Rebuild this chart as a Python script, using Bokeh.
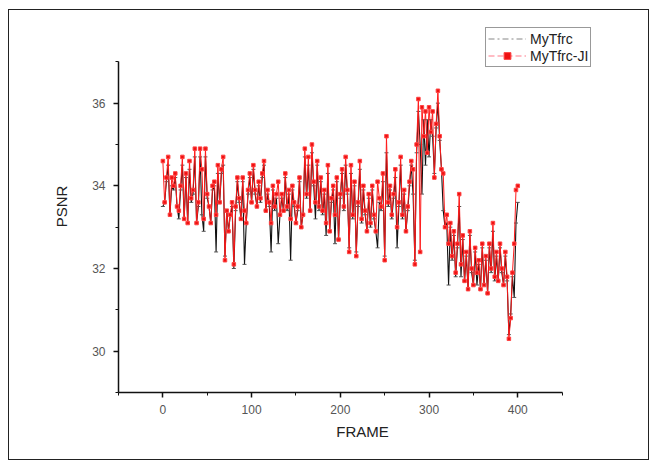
from bokeh.plotting import figure
from bokeh.models import Range1d, SingleIntervalTicker, Legend, LegendItem
from bokeh.embed import file_html
from bokeh.resources import INLINE

frames = list(range(0, 401, 2))

mytfrc_ji = [
    34.6, 33.6, 34.2, 34.7, 33.3, 34.2, 34.0, 34.3, 33.5, 33.4,
    34.0, 34.7, 33.2, 34.3, 33.1, 34.6, 33.7, 33.9, 34.9, 33.1,
    33.6, 34.9, 34.4, 33.2, 34.9, 33.8, 33.5, 33.1, 34.0, 34.1,
    33.3, 34.5, 33.6, 34.4, 34.7, 32.2, 33.4, 32.9, 33.3, 33.6,
    32.1, 33.5, 34.2, 33.7, 33.2, 34.2, 33.4, 33.1, 33.9, 34.3,
    33.6, 34.5, 33.9, 33.5, 34.1, 33.7, 34.3, 34.6, 33.4, 33.9,
    33.6, 33.1, 34.0, 33.5, 33.8, 34.1, 33.3, 33.8, 33.4, 34.3,
    33.5, 33.9, 33.2, 34.0, 33.6, 33.1, 33.5, 34.2, 33.0, 33.3,
    34.9, 33.8, 34.7, 33.4, 35.0, 34.1, 33.6, 34.6, 33.5, 34.2,
    33.4, 33.9, 33.1, 34.5, 32.9, 33.7, 34.0, 33.3, 34.2, 32.7,
    33.8, 34.4, 33.5, 34.7, 33.9, 32.4, 34.5, 33.3, 34.1, 32.3,
    33.6, 34.6, 33.2, 34.0, 33.4, 32.9, 33.8, 33.1, 34.0, 33.3,
    32.9, 34.1, 33.7, 33.5, 34.3, 32.2, 35.2, 33.6, 34.0, 33.3,
    33.8, 34.4, 33.0, 33.6, 34.7, 33.3, 33.9, 32.9, 33.5, 34.1,
    34.6, 34.4, 32.1, 35.0, 36.1, 32.4, 35.9, 35.2, 35.8, 34.8,
    35.9, 35.3, 35.8, 34.2, 35.5, 36.3, 35.2, 34.4, 34.3, 33.0,
    33.3, 32.6, 33.1, 32.3, 32.9, 31.9, 32.6, 33.8, 32.1, 32.8,
    31.7, 32.4, 31.5, 32.9, 32.0, 31.6, 32.5, 31.9, 32.2, 31.5,
    32.6, 31.6, 32.3, 31.4, 32.6, 32.0, 33.1, 31.8, 32.4, 31.7,
    32.6, 32.0, 31.6, 32.4, 31.8, 30.3, 30.8, 31.9, 32.6, 33.9,
    34.0,
]

mytfrc = [
    33.5, 33.6, 34.1, 34.5, 33.3, 34.0, 33.9, 34.2, 33.5, 33.2,
    33.9, 34.5, 33.2, 34.2, 33.1, 34.4, 33.6, 33.8, 34.7, 33.1,
    33.5, 34.7, 33.3, 32.9, 34.7, 33.7, 33.5, 33.1, 33.9, 34.0,
    32.4, 34.3, 33.6, 34.3, 34.5, 32.3, 33.4, 32.9, 33.3, 33.5,
    32.0, 33.4, 34.1, 33.6, 33.2, 34.1, 32.1, 33.1, 33.8, 34.2,
    33.6, 34.4, 33.8, 33.5, 34.0, 33.6, 34.2, 34.5, 33.4, 33.8,
    33.5, 32.4, 33.9, 33.4, 33.7, 32.6, 33.3, 33.7, 33.4, 34.2,
    33.4, 33.8, 32.2, 33.9, 33.5, 33.1, 33.4, 34.1, 33.0, 33.3,
    34.7, 33.7, 34.5, 33.4, 34.8, 34.0, 33.2, 34.5, 33.4, 34.1,
    33.3, 33.8, 32.8, 34.3, 32.9, 33.6, 33.9, 32.6, 34.1, 32.7,
    33.7, 34.3, 33.4, 34.5, 33.8, 32.5, 34.3, 33.2, 34.0, 32.4,
    33.5, 34.4, 33.1, 33.9, 33.3, 32.9, 33.7, 33.0, 33.9, 33.2,
    32.9, 32.5, 33.6, 33.4, 34.1, 32.3, 34.8, 33.5, 33.9, 33.2,
    33.7, 34.2, 32.5, 33.5, 34.5, 33.2, 33.8, 32.9, 33.4, 34.0,
    34.5, 33.8, 32.2, 34.8, 35.8, 35.0, 33.8, 35.6, 34.5, 35.6,
    34.7, 35.6, 35.2, 34.3, 35.4, 36.0, 35.1, 34.4, 33.4, 33.0,
    33.1, 31.6, 33.0, 32.2, 32.8, 31.8, 32.5, 33.5, 31.8, 32.7,
    31.7, 32.3, 31.5, 32.8, 31.9, 31.6, 32.4, 31.6, 32.1, 31.5,
    32.5, 31.6, 32.2, 31.4, 32.5, 31.9, 32.9, 31.7, 32.3, 31.7,
    32.5, 31.9, 31.6, 32.3, 31.7, 30.4, 30.9, 31.8, 31.3, 33.1,
    33.6,
]

x_ticks_interval = 100
y_ticks_interval = 2

FONT = "Liberation Sans"

p = figure(frame_width=488, frame_height=372, output_backend="svg", toolbar_location=None,
           x_range=Range1d(-50, 500), y_range=Range1d(29, 38),
           min_border_left=109, min_border_right=42, min_border_top=10, min_border_bottom=67)
p.styles = {"border": "1px solid #222", "margin-left": "8px", "margin-top": "9px"}
p.outline_line_color = None
p.xgrid.visible = False
p.ygrid.visible = False

black_line = p.line(frames, mytfrc, line_color="#111111", line_width=1.1)
black_pts = p.scatter(frames, mytfrc, marker="dash", size=4, line_color="#555555")
red_line = p.line(frames, mytfrc_ji, line_color="#ff1a1a", line_width=1)
red_pts = p.scatter(frames, mytfrc_ji, marker="square", size=3.5,
                    fill_color="#ee1111", line_color="#ff4444")

for ax, interval in ((p.xaxis[0], x_ticks_interval), (p.yaxis[0], y_ticks_interval)):
    ax.ticker = SingleIntervalTicker(interval=interval, num_minor_ticks=2)
    ax.axis_line_color = "#111111"
    ax.axis_line_width = 1.5
    ax.major_tick_line_color = "#111111"
    ax.minor_tick_line_color = "#111111"
    ax.major_tick_line_width = 1.5
    ax.major_tick_out = 5
    ax.major_tick_in = 0
    ax.minor_tick_out = 3
    ax.minor_tick_in = 0
    ax.major_label_text_font = FONT
    ax.major_label_text_font_size = "12px"
    ax.major_label_text_color = "#555555"
    ax.axis_label_text_font = FONT
    ax.axis_label_text_font_size = "15px"
    ax.axis_label_text_font_style = "normal"
    ax.axis_label_text_color = "#222222"

p.xaxis.bounds = (-50, 450)
p.yaxis.bounds = (29, 37)
p.xaxis.axis_label = "FRAME"
p.yaxis.axis_label = "PSNR"
p.xaxis.major_label_standoff = 7
p.xaxis.axis_label_standoff = 6
p.yaxis.major_label_standoff = 8
p.yaxis.axis_label_standoff = 19

legend_line = p.line([None], [None], line_color="#888888", line_dash="6 3 2 3", line_width=1.2)
legend_red = p.line([None], [None], line_color="#ff7a8a", line_dash="6 3", line_width=1.2)
legend_red_pt = p.scatter([None], [None], marker="square", size=3, fill_color="#ee1111", line_color="#ff4444")

legend = Legend(items=[
    LegendItem(label="MyTfrc", renderers=[legend_line]),
    LegendItem(label="MyTfrc-JI", renderers=[legend_red, legend_red_pt]),
], location=(367, 325))
legend.label_text_font = FONT
legend.label_text_font_size = "14px"
legend.label_text_color = "#222222"
legend.border_line_color = "#333333"
legend.border_line_width = 1
legend.padding = 2
legend.spacing = 0
legend.margin = 0
legend.glyph_width = 38
legend.glyph_height = 17
legend.label_height = 17
legend.label_standoff = 4
legend.background_fill_alpha = 1
p.add_layout(legend, "center")

open("out.html", "w").write(file_html(p, INLINE))
